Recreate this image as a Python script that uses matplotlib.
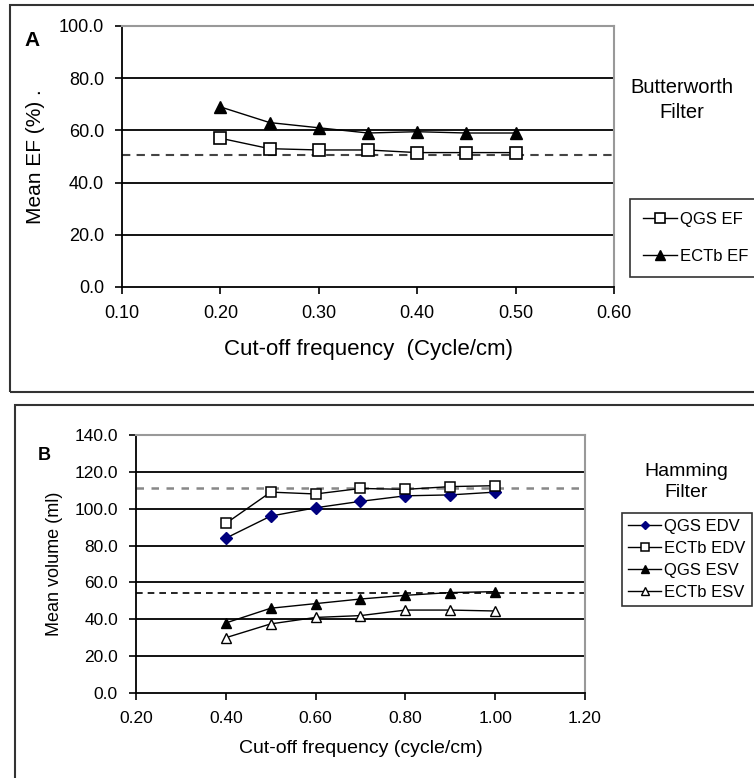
import matplotlib
matplotlib.use("Agg")
import matplotlib.pyplot as plt
from matplotlib.patches import Rectangle

plt.rcParams['font.family'] = ['Liberation Sans', 'DejaVu Sans']

# ---- Panel A data (Butterworth filter) ----
freq_a = [0.20, 0.25, 0.30, 0.35, 0.40, 0.45, 0.50]
qgs_ef = [57.0, 53.0, 52.5, 52.5, 51.5, 51.5, 51.5]
ectb_ef = [69.0, 63.0, 61.0, 59.0, 59.5, 59.0, 59.0]
ref_ef = 50.5
xticks_a = [0.10, 0.20, 0.30, 0.40, 0.50, 0.60]
yticks_a = [0, 20, 40, 60, 80, 100]

# ---- Panel B data (Hamming filter) ----
freq_b = [0.4, 0.5, 0.6, 0.7, 0.8, 0.9, 1.0]
qgs_edv = [84.0, 96.0, 100.5, 104.0, 107.0, 107.5, 109.0]
ectb_edv = [92.0, 109.0, 108.0, 111.0, 110.5, 112.0, 112.5]
qgs_esv = [38.0, 46.0, 48.5, 51.0, 53.0, 54.5, 55.0]
ectb_esv = [30.0, 37.5, 41.0, 42.0, 45.0, 45.0, 44.5]
ref_edv = 111.0
ref_esv = 54.0
xticks_b = [0.20, 0.40, 0.60, 0.80, 1.00, 1.20]
yticks_b = [0, 20, 40, 60, 80, 100, 120, 140]

W, H = 754, 778
fig = plt.figure(figsize=(W / 100, H / 100), dpi=100)


def px_axes(l, t, r, b):
    return fig.add_axes([l / W, 1 - b / H, (r - l) / W, (b - t) / H])


def style_axes(ax, xticks, yticks, fs):
    ax.set_xticks(xticks)
    ax.set_yticks(yticks)
    ax.set_xlim(xticks[0], xticks[-1])
    ax.set_ylim(yticks[0], yticks[-1])
    ax.set_xticklabels([f"{v:.2f}" for v in xticks], fontsize=fs)
    ax.set_yticklabels([f"{v:.1f}" for v in yticks], fontsize=fs)
    for v in yticks[1:-1]:
        ax.axhline(v, color='black', lw=1.3, zorder=1)
    ax.spines['left'].set_color('black')
    ax.spines['bottom'].set_color('black')
    ax.spines['left'].set_linewidth(1.3)
    ax.spines['bottom'].set_linewidth(1.3)
    ax.spines['top'].set_color('#999999')
    ax.spines['right'].set_color('#999999')
    ax.spines['top'].set_linewidth(1.5)
    ax.spines['right'].set_linewidth(1.5)
    ax.tick_params(axis='both', direction='out', length=5, width=1.2, pad=8)


# Panel frames
fig.patches.append(Rectangle((10 / W, 1 - 392 / H), 800 / W, 387 / H, transform=fig.transFigure,
                             fill=False, edgecolor='#333333', lw=1.5))
fig.patches.append(Rectangle((15 / W, 1 - 800 / H), 800 / W, 395 / H, transform=fig.transFigure,
                             fill=False, edgecolor='#333333', lw=1.5))

# ---- Panel A ----
axA = px_axes(122, 26, 614, 287)
style_axes(axA, xticks_a, yticks_a, 13)
axA.axhline(ref_ef, color='#444444', lw=1.5, ls=(0, (4, 3)), zorder=2)
axA.plot(freq_a, qgs_ef, color='black', lw=1, marker='s', ms=8, mfc='white', mec='black', mew=1.2,
         label='QGS EF', zorder=3)
axA.plot(freq_a, ectb_ef, color='black', lw=1, marker='^', ms=8, mfc='black', mec='black',
         label='ECTb EF', zorder=3)
axA.set_xlabel('Cut-off frequency  (Cycle/cm)', fontsize=16, labelpad=12)
axA.set_ylabel('Mean EF (%) .', fontsize=15, labelpad=10)
fig.text(32 / W, 1 - 40 / H, 'A', fontsize=15, fontweight='bold', va='center', ha='center')
fig.text(682 / W, 1 - 100 / H, 'Butterworth\nFilter', fontsize=14.5, ha='center', va='center',
         linespacing=1.45)
legA = fig.legend(handles=axA.get_lines()[-2:], labels=['QGS EF', 'ECTb EF'],
                  loc='upper left', bbox_to_anchor=(630 / W, 1 - 199 / H), frameon=True,
                  fancybox=False, edgecolor='black', fontsize=12, labelspacing=1.3,
                  handlelength=2.0, handletextpad=0.2, borderpad=0.8, borderaxespad=0,
                  markerscale=0.85)
legA.get_frame().set_linewidth(1.2)

# ---- Panel B ----
axB = px_axes(136, 435, 585, 693)
style_axes(axB, xticks_b, yticks_b, 12.5)
axB.axhline(ref_edv, color='#888888', lw=1.8, ls=(0, (3, 3)), zorder=2)
axB.axhline(ref_esv, color='black', lw=1.2, ls=(0, (4, 3)), zorder=2)
axB.plot(freq_b, qgs_edv, color='black', lw=1, marker='D', ms=6, mfc='#00007f', mec='#00007f',
         label='QGS EDV', zorder=3)
axB.plot(freq_b, ectb_edv, color='black', lw=1, marker='s', ms=7.5, mfc='white', mec='black', mew=1.1,
         label='ECTb EDV', zorder=3)
axB.plot(freq_b, qgs_esv, color='black', lw=1, marker='^', ms=7.5, mfc='black', mec='black',
         label='QGS ESV', zorder=3)
axB.plot(freq_b, ectb_esv, color='black', lw=1, marker='^', ms=7.5, mfc='white', mec='black', mew=1,
         label='ECTb ESV', zorder=3)
axB.set_xlabel('Cut-off frequency (cycle/cm)', fontsize=14, labelpad=10)
axB.set_ylabel('Mean volume (ml)', fontsize=13, labelpad=8)
fig.text(44 / W, 1 - 456 / H, 'B', fontsize=13, fontweight='bold', va='center', ha='center')
fig.text(686 / W, 1 - 482 / H, 'Hamming\nFilter', fontsize=14, ha='center', va='center',
         linespacing=1.35)
legB = fig.legend(handles=axB.get_lines()[-4:], labels=['QGS EDV', 'ECTb EDV', 'QGS ESV', 'ECTb ESV'],
                  loc='upper left', bbox_to_anchor=(622 / W, 1 - 513 / H), frameon=True,
                  fancybox=False, edgecolor='black', fontsize=12, labelspacing=0.42,
                  handlelength=2.0, handletextpad=0.2, borderpad=0.35, borderaxespad=0,
                  markerscale=0.75)
legB.get_frame().set_linewidth(1.2)

fig.savefig('out.png', dpi=100)
